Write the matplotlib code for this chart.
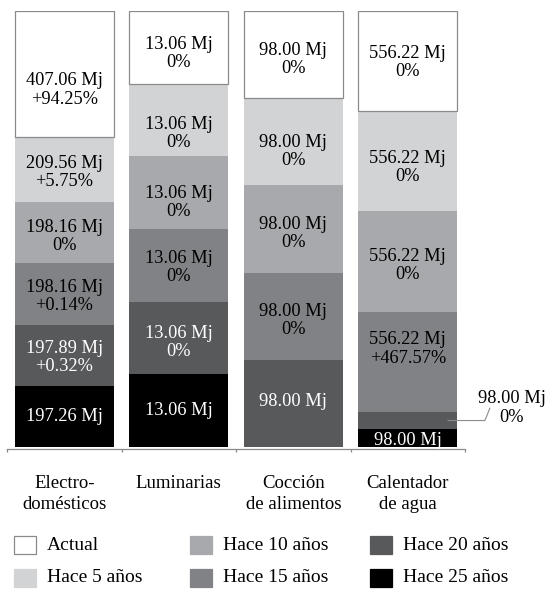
import matplotlib
matplotlib.use("Agg")
import matplotlib.pyplot as plt
from matplotlib.patches import Rectangle
import numpy as np

plt.rcParams['font.family'] = ['Liberation Serif', 'DejaVu Serif']

# ---------------- data ----------------
categories = ["Electro-\ndomésticos", "Luminarias", "Cocción\nde alimentos", "Calentador\nde agua"]
series_names = ["Hace 25 años", "Hace 20 años", "Hace 15 años", "Hace 10 años", "Hace 5 años", "Actual"]

hace25 = [197.26, 13.06, 0.0, 98.00]
hace20 = [197.89, 13.06, 98.00, 98.00]
hace15 = [198.16, 13.06, 98.00, 556.22]
hace10 = [198.16, 13.06, 98.00, 556.22]
hace5 = [209.56, 13.06, 98.00, 556.22]
actual = [407.06, 13.06, 98.00, 556.22]

# percentage change vs previous period (None = no label)
pct25 = [None, None, None, None]
pct20 = [0.32, 0.0, None, 0.0]
pct15 = [0.14, 0.0, 0.0, 467.57]
pct10 = [0.0, 0.0, 0.0, 0.0]
pct5 = [5.75, 0.0, 0.0, 0.0]
pct_actual = [94.25, 0.0, 0.0, 0.0]

# ---------------- style ----------------
colors = ["#000000", "#58595b", "#808285", "#a7a9ac", "#d1d3d4", "#ffffff"]
text_colors = ["white", "white", "black", "black", "black", "black"]
# vertical nudge of each label in pixels (positive = down), per series (bottom->top) and bar
label_nudge = [
    [-1.5, -2.5, 0, 0],
    [0.5, 2.5, -4, 0],
    [0.5, 0, 2, -14.5],
    [2, 7.5, 2.5, 2],
    [1, 11.5, 7.5, 4.5],
    [14, 4, 3, -0.5],
]

values = np.array([hace25, hace20, hace15, hace10, hace5, actual])
pcts = [pct25, pct20, pct15, pct10, pct5, pct_actual]
shares = values / values.sum(axis=0) * 100

# ---------------- figure ----------------
W, H = 547, 590
fig = plt.figure(figsize=(W / 100, H / 100), dpi=100)
ax = fig.add_axes([7 / W, 143 / H, 458 / W, 436 / H])

x = np.arange(len(categories))
bw = 0.865
bottom = np.zeros(len(categories))
fs = 13.2
pt = 0.72  # points per pixel at dpi 100

for i, name in enumerate(series_names):
    h = shares[i]
    if name == "Actual":
        ax.bar(x, h, bw, bottom=bottom, color=colors[i], edgecolor="#8a8a8a", linewidth=0.9, zorder=2)
    else:
        ax.bar(x, h, bw, bottom=bottom, color=colors[i], linewidth=0, zorder=2)
    for j in range(len(categories)):
        if values[i, j] <= 0:
            continue
        p = pcts[i][j]
        lab = f"{values[i, j]:.2f} Mj"
        if p is not None:
            lab += "\n" + ("0%" if p == 0 else f"+{p:.2f}%")
        yc = bottom[j] + h[j] / 2
        if j == 3 and name == "Hace 20 años":
            ax.annotate(lab, xy=(x[j] + 0.35, yc), xytext=(46, 9), textcoords="offset points",
                        ha="center", va="center", fontsize=fs, linespacing=1.1, color="black",
                        annotation_clip=False, zorder=4,
                        arrowprops=dict(arrowstyle="-", color="#8a8a8a", lw=0.8,
                                        connectionstyle="angle,angleA=68,angleB=0,rad=0",
                                        relpos=(0.18, 0.5), shrinkA=0, shrinkB=0,
                                        patchA=None, patchB=None))
        else:
            dy = -(label_nudge[i][j] + 2) * pt
            ax.annotate(lab, xy=(x[j], yc), xytext=(0, dy), textcoords="offset points",
                        ha="center", va="center", fontsize=fs,
                        linespacing=1.1, color=text_colors[i], zorder=3)
    bottom += h

ax.set_xlim(-0.5, 3.5)
ax.set_ylim(0, 100)
for s in ["left", "top", "right"]:
    ax.spines[s].set_visible(False)
ax.spines["bottom"].set_color("#8a8a8a")
ax.spines["bottom"].set_linewidth(0.9)
ax.spines["bottom"].set_position(("outward", 1.5))
ax.set_yticks([])
ax.set_xticks(np.arange(-0.5, 4, 1))
ax.set_xticklabels([])
ax.tick_params(axis="x", length=2.5, width=0.9, color="#8a8a8a", direction="out")

for j, c in enumerate(categories):
    ax.text(x[j], -28 / 436 * 100, c, ha="center", va="top", fontsize=13.5,
            linespacing=1.28, color="black", clip_on=False)

# ---------------- legend ----------------
leg_order = ["Actual", "Hace 5 años", "Hace 10 años", "Hace 15 años", "Hace 20 años", "Hace 25 años"]
col_x = [14, 190, 370]
row_y = [545, 578]
for k, name in enumerate(leg_order):
    ci = series_names.index(name)
    cx = col_x[k // 2]
    cy = row_y[k % 2]
    ec = "#8a8a8a" if name == "Actual" else colors[ci]
    fig.add_artist(Rectangle((cx / W, (H - cy - 9) / H), 22 / W, 18 / H,
                             transform=fig.transFigure, facecolor=colors[ci],
                             edgecolor=ec, linewidth=0.9))
    fig.text((cx + 33) / W, (H - cy) / H, name, ha="left", va="center", fontsize=14)

fig.savefig("out.png", dpi=100)
